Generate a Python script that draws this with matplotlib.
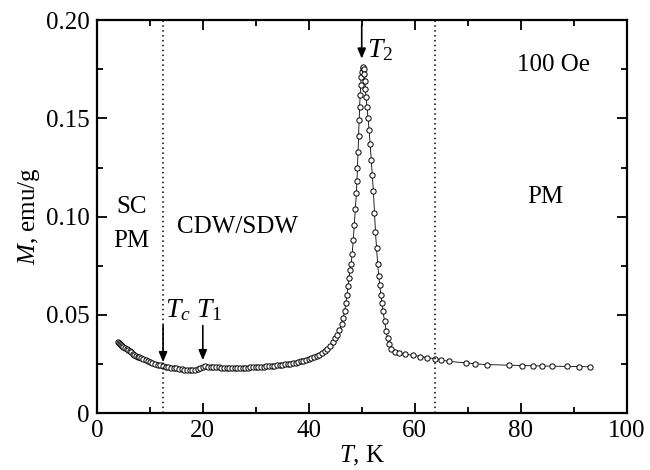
import matplotlib
matplotlib.use('Agg')
import matplotlib.pyplot as plt
from matplotlib.ticker import MultipleLocator

plt.rcParams['font.family'] = ['Liberation Serif', 'DejaVu Serif']
plt.rcParams['mathtext.fontset'] = 'custom'
plt.rcParams['mathtext.rm'] = 'Liberation Serif'
plt.rcParams['mathtext.it'] = 'Liberation Serif:italic'

# M(T) curve
temp = [4.0, 4.2, 4.4, 4.6, 4.8, 5.0, 5.3, 5.6, 5.9, 6.2, 6.5, 6.8, 7.1, 7.4, 7.7,
        8.0, 8.4, 8.8, 9.2, 9.6, 10.0, 10.5, 11.0, 11.5, 12.0, 12.5, 13.0, 13.5,
        14.0, 14.5, 15.0, 15.5, 16.0, 16.5, 17.0, 17.5, 18.0, 18.5, 19.0, 19.5,
        20.0, 20.5, 21.0, 21.5, 22.0, 22.5, 23.0, 23.5, 24.0, 24.5, 25.0, 25.5,
        26.0, 26.5, 27.0, 27.5, 28.0, 28.5, 29.0, 29.5, 30.0, 30.5, 31.0, 31.5,
        32.0, 32.5, 33.0, 33.5, 34.0, 34.5, 35.0, 35.5, 36.0, 36.5, 37.0, 37.5,
        38.0, 38.5, 39.0, 39.5, 40.0, 40.5, 41.0, 41.5, 42.0, 42.5, 43.0, 43.5,
        44.0, 44.5, 45.0, 45.4, 45.8, 46.2, 46.5, 46.8, 47.0, 47.2, 47.4, 47.6,
        47.8, 48.0, 48.2, 48.4, 48.6, 48.8, 49.0, 49.1, 49.2, 49.3, 49.4, 49.5,
        49.6, 49.7, 49.8, 49.9, 50.0, 50.15, 50.3, 50.4, 50.5, 50.6, 50.7, 50.8,
        51.0, 51.2, 51.4, 51.6, 51.8, 52.0, 52.2, 52.4, 52.6, 52.8, 53.0, 53.2,
        53.4, 53.6, 53.8, 54.0, 54.3, 54.6, 54.9, 55.2, 55.6, 56.2, 57.0, 58.2,
        59.6, 61.0, 62.4, 63.8, 65.0, 66.5, 69.7, 71.4, 73.7, 77.8, 80.3, 82.3,
        84.1, 86.0, 88.8, 91.0, 93.0]
mag = [0.0360, 0.0355, 0.0350, 0.0346, 0.0342, 0.0338, 0.0333, 0.0327, 0.0321,
       0.0315, 0.0309, 0.0303, 0.0298, 0.0293, 0.0288, 0.0284, 0.0279, 0.0273,
       0.0268, 0.0263, 0.0258, 0.0253, 0.0249, 0.0246, 0.0243, 0.0240, 0.0237,
       0.0234, 0.0232, 0.0230, 0.0228, 0.0226, 0.0224, 0.0222, 0.0221, 0.0220,
       0.0220, 0.0222, 0.0226, 0.0231, 0.0236, 0.0238, 0.0237, 0.0235, 0.0234,
       0.0233, 0.0233, 0.0232, 0.0232, 0.0232, 0.0231, 0.0231, 0.0231, 0.0231,
       0.0231, 0.0232, 0.0232, 0.0232, 0.0233, 0.0233, 0.0234, 0.0235, 0.0236,
       0.0237, 0.0238, 0.0239, 0.0240, 0.0241, 0.0243, 0.0244, 0.0246, 0.0248,
       0.0250, 0.0252, 0.0254, 0.0257, 0.0260, 0.0263, 0.0266, 0.0270, 0.0274,
       0.0279, 0.0284, 0.0290, 0.0297, 0.0305, 0.0315, 0.0327, 0.0342, 0.0360,
       0.0380, 0.0400, 0.0425, 0.0455, 0.0485, 0.0520, 0.0560, 0.0600, 0.0645,
       0.0690, 0.0730, 0.0760, 0.0810, 0.0880, 0.0960, 0.1040, 0.1120, 0.1180,
       0.1250, 0.1330, 0.1410, 0.1490, 0.1560, 0.1620, 0.1670, 0.1710, 0.1735,
       0.1755, 0.1760, 0.1750, 0.1725, 0.1690, 0.1650, 0.1610, 0.1560, 0.1500,
       0.1440, 0.1370, 0.1290, 0.1210, 0.1130, 0.1020, 0.0920, 0.0840, 0.0760,
       0.0700, 0.0650, 0.0600, 0.0560, 0.0520, 0.0470, 0.0420, 0.0380, 0.0350,
       0.0325, 0.0312, 0.0305, 0.0300, 0.0294, 0.0288, 0.0283, 0.0277, 0.0270,
       0.0263, 0.0256, 0.0251, 0.0247, 0.0244, 0.0242, 0.0241, 0.0240, 0.0239,
       0.0238, 0.0237, 0.0236]

boundaries = [12.4, 63.8]   # dotted lines
fs = 18

fig = plt.figure(figsize=(6.5, 4.7), dpi=100)
ax = fig.add_axes([0.149, 0.121, 0.815, 0.836])

ax.plot(temp, mag, '-', color='black', lw=0.6,
        marker='o', ms=3.8, mfc='white', mec='black', mew=0.7)

for b in boundaries:
    ax.axvline(b, color='black', ls=(0, (1, 2.2)), lw=1.1)

ax.set_xlim(0, 100)
ax.set_ylim(0, 0.20)
ax.xaxis.set_major_locator(MultipleLocator(20))
ax.xaxis.set_minor_locator(MultipleLocator(10))
ax.yaxis.set_major_locator(MultipleLocator(0.05))
ax.yaxis.set_minor_locator(MultipleLocator(0.025))
ax.set_yticks([0, 0.05, 0.10, 0.15, 0.20])
ax.set_yticklabels(['0', '0.05', '0.10', '0.15', '0.20'])
ax.tick_params(which='both', direction='in', top=True, right=True,
               labelsize=fs, width=1.3)
ax.tick_params(which='major', length=7, pad=5)
ax.tick_params(which='minor', length=4.5)
for s in ax.spines.values():
    s.set_linewidth(1.6)

ax.set_xlabel('$T$, K', fontsize=fs, labelpad=1)
ax.set_ylabel('$M$, emu/g', fontsize=fs, labelpad=3)

# region labels
ax.text(6.5, 0.1047, 'SC', fontsize=fs, ha='center', va='center')
ax.text(6.5, 0.0876, 'PM', fontsize=fs, ha='center', va='center')
ax.text(26.6, 0.0946, 'CDW/SDW', fontsize=fs, ha='center', va='center')
ax.text(84.7, 0.110, 'PM', fontsize=fs, ha='center', va='center')
ax.text(86.2, 0.177, '100 Oe', fontsize=fs, ha='center', va='center')

# transition arrows
arr = dict(arrowstyle='-|>,head_length=0.6,head_width=0.25', color='black', lw=1.2)
ax.annotate('', xy=(12.5, 0.0245), xytext=(12.5, 0.046), arrowprops=arr)
ax.annotate('', xy=(20.0, 0.0255), xytext=(20.0, 0.046), arrowprops=arr)
ax.annotate('', xy=(50.0, 0.179), xytext=(50.0, 0.199), arrowprops=arr)
ax.text(12.9, 0.049, '$T_c$', fontsize=fs + 2, ha='left', va='baseline')
ax.text(18.7, 0.049, '$T_1$', fontsize=fs + 2, ha='left', va='baseline')
ax.text(51.0, 0.181, '$T_2$', fontsize=fs + 2, ha='left', va='baseline')

plt.savefig('out.png', dpi=100)
